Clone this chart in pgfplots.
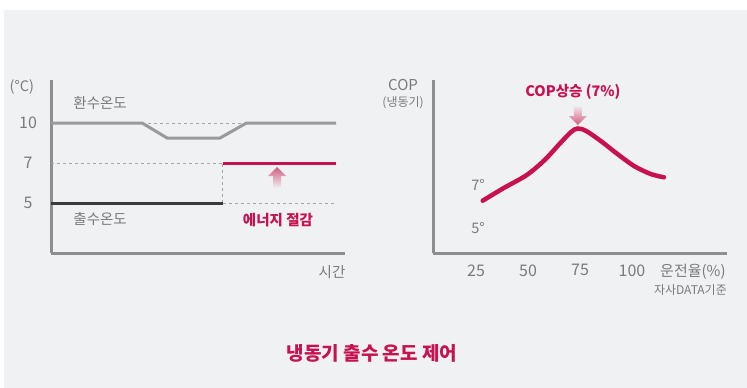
\documentclass[border=0pt]{standalone}
\usepackage{fontspec}
\setmainfont{Noto Sans CJK KR}
\usepackage{pgfplots}
\pgfplotsset{compat=1.18}
\definecolor{bg}{HTML}{F0F1F3}
\definecolor{txt}{HTML}{7A7A7A}
\definecolor{axisgray}{HTML}{8E8E8E}
\definecolor{linegray}{HTML}{9A9A9A}
\definecolor{dark}{HTML}{3A3A3A}
\definecolor{crim}{HTML}{C8124F}
\definecolor{arrowpink}{HTML}{D45C80}

\pgfplotsset{
  panel/.style={
    anchor=south west, scale only axis, width=294pt, height=173pt,
    axis lines=left, axis line style={-, line width=3pt, color=axisgray},
    major tick length=0, clip=false,
    /pgf/number format/assume math mode=true,
    tick label style={text=txt, font=\fontsize{16}{16}\selectfont},
  },
  dots/.style={line width=1pt, color=gray!70, dash pattern=on 3pt off 3pt, forget plot},
}

\begin{document}
\begin{tikzpicture}
\fill[white] (0pt,0pt) rectangle (747pt,-388pt);
\fill[bg] (4pt,-10pt) rectangle (747pt,-388pt);
\useasboundingbox (0pt,0pt) rectangle (747pt,-388pt);

% left: outlet water temperature over time
\begin{axis}[panel, at={(51pt,-253pt)},
  xmin=0, xmax=10, ymin=2.5, ymax=11.15,
  xtick=\empty, ytick={5,7,9}, yticklabels={5,7,10},
  yticklabel style={anchor=center, xshift=-23pt},
]
\addplot[dots] coordinates {(3.1,9) (6.65,9)};
\addplot[dots] coordinates {(0,7) (5.85,7)};
\addplot[dots] coordinates {(5.85,5) (9.7,5)};
\addplot[dots] coordinates {(5.85,5) (5.85,7)};
\addplot[line width=3pt, color=linegray] coordinates {(0,9) (3.1,9) (3.95,8.25) (5.75,8.25) (6.65,9) (9.7,9)};
\addplot[line width=3pt, color=dark] coordinates {(0,5) (5.85,5)};
\addplot[line width=3pt, color=crim] coordinates {(5.85,7) (9.7,7)};
\shade[top color=arrowpink, bottom color=bg] (axis cs:7.69,6.8) -- ++(9pt,-9pt) -- ++(-5pt,0pt) -- ++(0pt,-12pt) -- ++(-8pt,0pt) -- ++(0pt,12pt) -- ++(-5pt,0pt) -- cycle;
\node[text=txt, font=\fontsize{14.5}{14.5}\selectfont] at (axis cs:1.67,10) {환수온도};
\node[text=txt, font=\fontsize{14.5}{14.5}\selectfont] at (axis cs:1.67,4.2) {출수온도};
\node[text=crim, font=\fontsize{14.5}{14.5}\selectfont\bfseries] at (axis cs:7.72,4.15) {에너지 절감};
\node[text=txt, font=\fontsize{14.5}{14.5}\selectfont] at (axis cs:9.56,1.55) {시간};
\node[text=txt, font=\fontsize{14.5}{14.5}\selectfont] at (axis cs:-0.99,10.8) {(°C)};
\end{axis}

% right: COP against load ratio
\begin{axis}[panel, at={(433pt,-253pt)},
  xmin=4.3, xmax=145.7, ymin=0, ymax=173,
  xtick={25,50,75,100}, ytick=\empty,
  xticklabel style={yshift=-8pt},
]
\addplot[smooth, line width=4.5pt, color=crim, line cap=round] coordinates {
  (28.2,52.3) (38.1,64.7) (49.4,78) (58,93) (66,111) (71,121.5)
  (74,124.5) (78,122) (85,112) (93,99) (101,87) (109,79) (115.4,75.7)};
\shade[top color=bg, bottom color=arrowpink] (axis cs:74,128) -- ++(9pt,9pt) -- ++(-5pt,0pt) -- ++(0pt,11pt) -- ++(-8pt,0pt) -- ++(0pt,-11pt) -- ++(-5pt,0pt) -- cycle;
\node[text=crim, font=\fontsize{14.5}{14.5}\selectfont\bfseries] at (axis cs:71.6,161) {COP상승 (7\%)};
\node[text=txt, font=\fontsize{14.5}{14.5}\selectfont] at (axis cs:26,68) {7°};
\node[text=txt, font=\fontsize{14.5}{14.5}\selectfont] at (axis cs:26,25) {5°};
\node[text=txt, font=\fontsize{15}{15}\selectfont] at (axis cs:-10.1,168) {COP};
\node[text=txt, font=\fontsize{12}{12}\selectfont] at (axis cs:-10.1,150) {(냉동기)};
\node[text=txt, font=\fontsize{15}{15}\selectfont] at (axis cs:129.3,-19) {운전율(\%)};
\node[text=txt, font=\fontsize{12}{12}\selectfont, anchor=east, inner sep=0pt] at (axis cs:145.7,-37) {자사DATA기준};
\end{axis}

\node[text=crim, font=\fontsize{19}{19}\selectfont\bfseries] at (372pt,-353pt) {냉동기 출수 온도 제어};
\end{tikzpicture}
\end{document}
